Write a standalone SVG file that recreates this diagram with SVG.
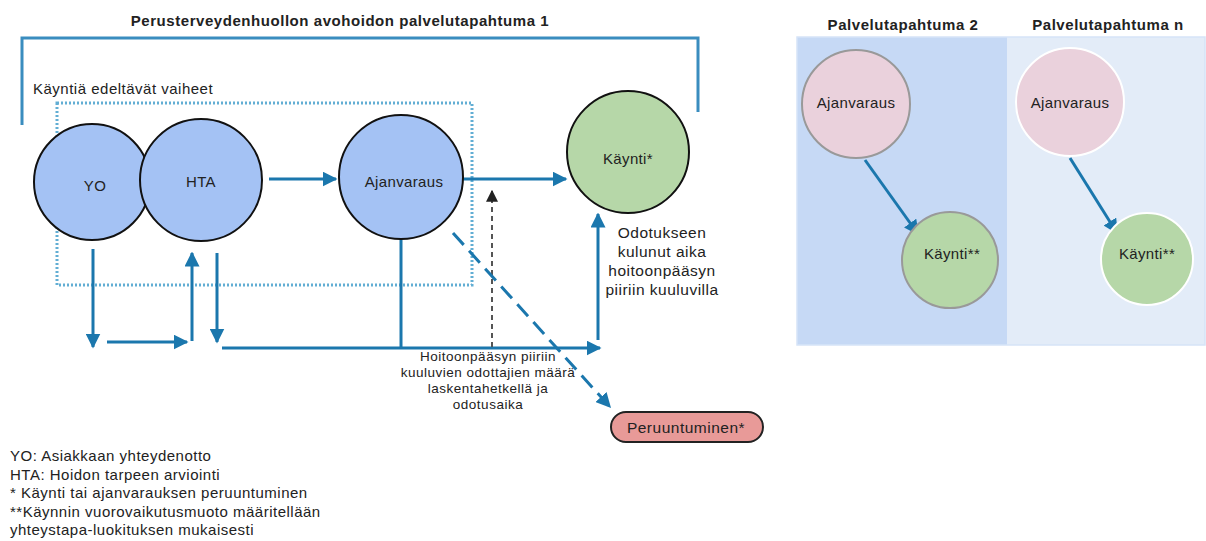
<svg xmlns="http://www.w3.org/2000/svg" width="1206" height="541" viewBox="0 0 1206 541">
<defs>
<marker id="ah" viewBox="0 0 10 10" refX="9" refY="5" markerWidth="5" markerHeight="5" markerUnits="strokeWidth" orient="auto"><path d="M0,0 L10,5 L0,10 z" fill="#1b77ad"/></marker>
<marker id="ahk" viewBox="0 0 10 10" refX="9" refY="5" markerWidth="6" markerHeight="6" markerUnits="strokeWidth" orient="auto"><path d="M0,0 L10,5 L0,10 z" fill="#222"/></marker>
<style>
text{font-family:"Liberation Sans",Arial,sans-serif;fill:#222}
.t{font-size:15px;font-weight:bold;text-anchor:middle;letter-spacing:0.55px}
.n{font-size:15px;text-anchor:middle;letter-spacing:0.35px}
.w{font-size:15.5px;text-anchor:middle;letter-spacing:0.5px}
.s{font-size:13.5px;text-anchor:middle;letter-spacing:0.5px}
.l{font-size:15px;letter-spacing:0.5px}
.blue{fill:#a4c2f4;stroke:#111;stroke-width:2}
.green{fill:#b6d7a8;stroke:#111;stroke-width:2}
.c{fill:none;stroke:#1b77ad;stroke-width:3}
</style>
</defs>
<rect width="1206" height="541" fill="#fff"/>
<g id="panels">
<rect x="797" y="37" width="210" height="308" fill="#c6d9f5"/>
<rect x="1007" y="37" width="198" height="308" fill="#e3ecf8"/>
<rect x="797" y="37" width="408" height="308" fill="none" stroke="#d6e4f7" stroke-width="1.5"/>
</g>
<g id="titles">
<text class="t" x="340" y="26">Perusterveydenhuollon avohoidon palvelutapahtuma 1</text>
<text class="t" x="903" y="30">Palvelutapahtuma 2</text>
<text class="t" x="1108" y="30">Palvelutapahtuma n</text>
<text class="l" x="33" y="94">Käyntiä edeltävät vaiheet</text>
</g>
<g id="bracket"><path d="M22,125 V38 H698 V112" fill="none" stroke="#3a8dbf" stroke-width="3"/></g>
<g id="phase-box"><rect x="57" y="103" width="415" height="182" fill="none" stroke="#62aed4" stroke-width="3" stroke-dasharray="2 2"/></g>
<g id="connectors">
<line class="c" x1="269" y1="179" x2="336" y2="179" marker-end="url(#ah)"/>
<line class="c" x1="463" y1="179" x2="566" y2="179" marker-end="url(#ah)"/>
<line class="c" x1="93" y1="249" x2="93" y2="347" marker-end="url(#ah)"/>
<line class="c" x1="107" y1="342" x2="187" y2="342" marker-end="url(#ah)"/>
<line class="c" x1="192" y1="341" x2="192" y2="253" marker-end="url(#ah)"/>
<line class="c" x1="217" y1="253" x2="217" y2="342" marker-end="url(#ah)"/>
<line class="c" x1="222" y1="348" x2="600" y2="348" marker-end="url(#ah)"/>
<line class="c" x1="401" y1="239" x2="401" y2="348"/>
<line class="c" x1="598" y1="340" x2="598" y2="214" marker-end="url(#ah)"/>
<line x1="492" y1="347" x2="492" y2="191" fill="none" stroke="#555" stroke-width="2" stroke-dasharray="5 4" marker-end="url(#ahk)"/>
<line class="c" x1="453" y1="233" x2="610" y2="407" stroke-dasharray="16 8" marker-end="url(#ah)"/>
<line class="c" x1="865" y1="160" x2="918" y2="234" marker-end="url(#ah)"/>
<line class="c" x1="1070" y1="158" x2="1117" y2="233" marker-end="url(#ah)"/>
</g>
<g id="YO"><circle class="blue" cx="92" cy="182" r="58"/><text class="n" x="95" y="191">YO</text></g>
<g id="HTA"><circle class="blue" cx="201" cy="180" r="61"/><text class="n" x="201" y="187">HTA</text></g>
<g id="Ajanvaraus"><circle class="blue" cx="401" cy="177" r="62"/><text class="n" x="404" y="187">Ajanvaraus</text></g>
<g id="Kaynti"><circle class="green" cx="628" cy="152" r="61"/><text class="n" x="628" y="164">Käynti*</text></g>
<g id="Peruuntuminen"><rect x="611" y="412" width="152" height="30" rx="15" fill="#e89a98" stroke="#222" stroke-width="2"/><text class="w" x="686" y="433">Peruuntuminen*</text></g>
<g id="Ajanvaraus2"><circle cx="856" cy="104" r="54" fill="#ead1dc" stroke="#999" stroke-width="2"/><text class="n" x="856" y="108">Ajanvaraus</text></g>
<g id="Kaynti2"><circle cx="950" cy="260" r="48" fill="#b6d7a8" stroke="#999" stroke-width="2"/><text class="n" x="952" y="259">Käynti**</text></g>
<g id="AjanvarausN"><circle cx="1070" cy="102" r="54" fill="#ead1dc" stroke="#fff" stroke-width="2"/><text class="n" x="1070" y="108">Ajanvaraus</text></g>
<g id="KayntiN"><circle cx="1147" cy="259" r="46" fill="#b6d7a8" stroke="#fff" stroke-width="2"/><text class="n" x="1147" y="259">Käynti**</text></g>
<g id="labels">
<text class="w" x="662" y="238">Odotukseen</text>
<text class="w" x="662" y="257">kulunut aika</text>
<text class="w" x="662" y="276">hoitoonpääsyn</text>
<text class="w" x="662" y="295">piiriin kuuluvilla</text>
<text class="s" x="488" y="361">Hoitoonpääsyn piiriin</text>
<text class="s" x="488" y="377">kuuluvien odottajien määrä</text>
<text class="s" x="488" y="393">laskentahetkellä ja</text>
<text class="s" x="488" y="409">odotusaika</text>
</g>
<g id="legend">
<text class="l" x="10" y="461">YO: Asiakkaan yhteydenotto</text>
<text class="l" x="10" y="480">HTA: Hoidon tarpeen arviointi</text>
<text class="l" x="10" y="498">* Käynti tai ajanvarauksen peruuntuminen</text>
<text class="l" x="10" y="517">**Käynnin vuorovaikutusmuoto määritellään</text>
<text class="l" x="10" y="535">yhteystapa-luokituksen mukaisesti</text>
</g>
</svg>
